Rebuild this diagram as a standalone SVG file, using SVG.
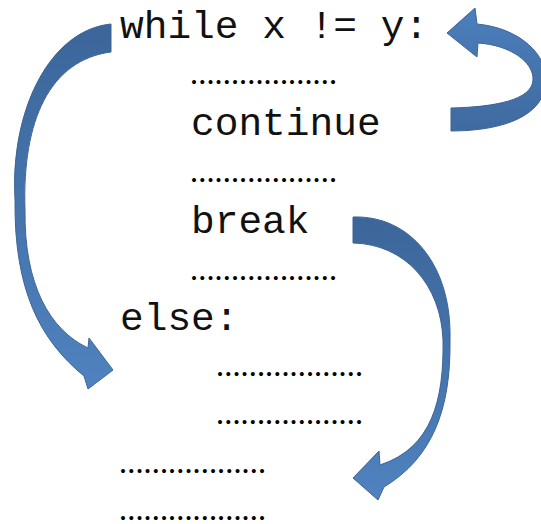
<svg xmlns="http://www.w3.org/2000/svg" width="541" height="524" viewBox="0 0 541 524">
  <defs>
    <style>
      .code { font-family: "Courier New", "Nimbus Mono PS", "FreeMono", "Liberation Mono", monospace; font-size: 39.5px; fill: #111; }
      .dots { font-family: "Liberation Serif", "Times New Roman", serif; font-size: 24.5px; font-weight: bold; fill: #000; }
      .arrow { stroke: #3d6597; stroke-width: 1; stroke-linejoin: round; }
    </style>
    <linearGradient id="gradLeft" gradientUnits="userSpaceOnUse" x1="0" y1="24" x2="0" y2="390">
      <stop offset="0" stop-color="#3c669a"/>
      <stop offset="1" stop-color="#4f82bf"/>
    </linearGradient>
    <linearGradient id="gradTop" gradientUnits="userSpaceOnUse" x1="0" y1="8" x2="0" y2="131">
      <stop offset="0" stop-color="#4c7fbc"/>
      <stop offset="1" stop-color="#3f6aa0"/>
    </linearGradient>
    <linearGradient id="gradBreak" gradientUnits="userSpaceOnUse" x1="0" y1="217" x2="0" y2="500">
      <stop offset="0" stop-color="#3c669a"/>
      <stop offset="1" stop-color="#4f82bf"/>
    </linearGradient>
  </defs>
  <rect width="541" height="524" fill="#ffffff"/>

  <!-- connectors: curved block arrows -->
  <g id="connectors">
    <!-- loop exits normally: while -> else -->
    <path id="arrow-while-else" class="arrow" fill="url(#gradLeft)"
          d="M 111,24 C 50,30 10,110 15,200 C 14,290 40,340 84,376 L 88,389 L 113,370 L 89,338 L 88,348 C 50,330 24,285 25,210 C 22,120 50,60 111,52 Z"/>
    <!-- continue jumps back to the loop test -->
    <path id="arrow-continue-while" class="arrow" fill="url(#gradTop)"
          d="M 451,108 C 495,107 532,100 533,80 C 534,62 510,45 478,43 L 477,57 L 447,33 L 475,8 L 477,24 C 520,28 548,55 546,82 C 544,115 505,131 451,131 Z"/>
    <!-- break skips the else block -->
    <path id="arrow-break-after" class="arrow" fill="url(#gradBreak)"
          d="M 353,217 C 410,215 452,265 450,340 C 451,410 432,458 384,487 L 378,500 L 353,478 L 379,451 L 380,465 C 432,448 444,400 443,340 C 441,285 405,244 353,243 Z"/>
  </g>

  <!-- code lines -->
  <g id="line-while"><text class="code" x="120" y="38">while x != y:</text></g>
  <g id="line-dots-1"><text class="dots" x="190" y="84">………………</text></g>
  <g id="line-continue"><text class="code" x="191" y="135">continue</text></g>
  <g id="line-dots-2"><text class="dots" x="190" y="182">………………</text></g>
  <g id="line-break"><text class="code" x="191" y="233">break</text></g>
  <g id="line-dots-3"><text class="dots" x="190" y="280">………………</text></g>
  <g id="line-else"><text class="code" x="120" y="330">else:</text></g>
  <g id="line-dots-4"><text class="dots" x="216" y="376">………………</text></g>
  <g id="line-dots-5"><text class="dots" x="216" y="424">………………</text></g>
  <g id="line-dots-6"><text class="dots" x="119" y="473">………………</text></g>
  <g id="line-dots-7"><text class="dots" x="119" y="520">………………</text></g>
</svg>
